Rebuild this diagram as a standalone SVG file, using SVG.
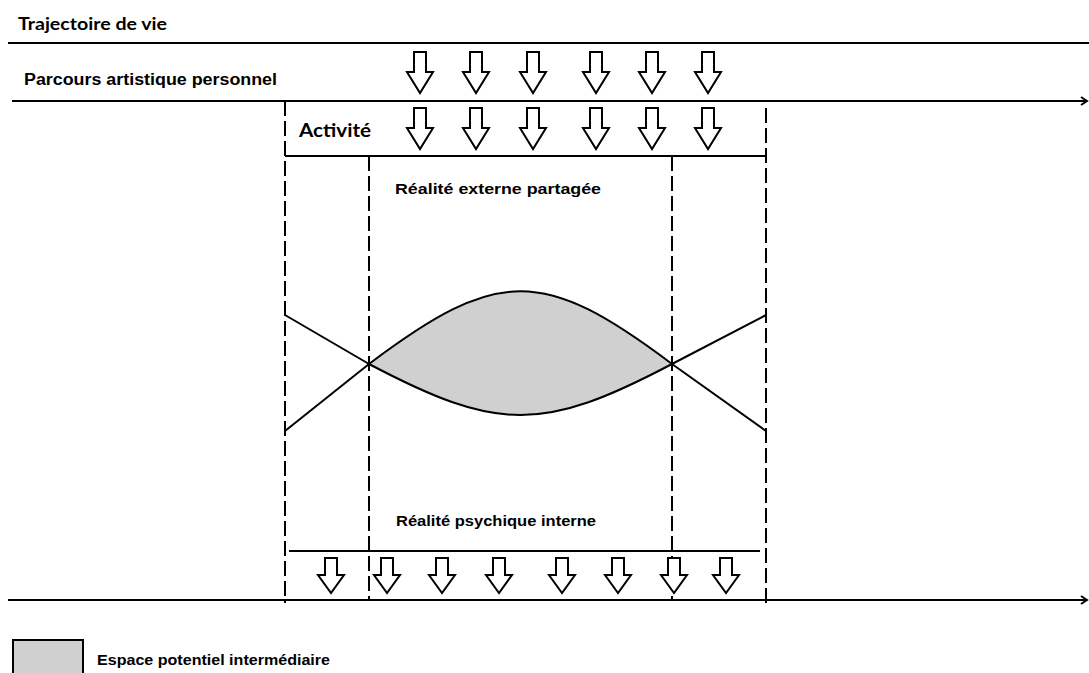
<svg xmlns="http://www.w3.org/2000/svg" xmlns:xlink="http://www.w3.org/1999/xlink" width="1089" height="673" viewBox="0 0 1089 673">
  <style>
    .line { stroke: #000; stroke-width: 2; fill: none; }
    .dash { stroke: #000; stroke-width: 2; fill: none; stroke-dasharray: 15 5; }
    .arrow { stroke: #000; stroke-width: 2; fill: #fff; stroke-linejoin: miter; }
    .lbl { font-family: "Liberation Sans", Arial, sans-serif; font-weight: bold; fill: #000; }
    .cal { font-family: Lato, "Open Sans", sans-serif; font-weight: bold; fill: #000; }
    .zone { fill: #d0d0d0; stroke: #000; stroke-width: 2; }
  </style>
  <defs>
    <!-- hollow down arrow, origin at top centre -->
    <path id="arrTall" class="arrow" d="M-6,0 V20 H-13 L0,41 L13,20 H6 V0 Z"/>
    <path id="arrShort" class="arrow" d="M-6,0 V17 H-13 L0,35 L13,17 H6 V0 Z"/>
  </defs>

  <rect width="1089" height="673" fill="#fff"/>

  <!-- labels -->
  <g id="trajectoire">
    <text class="cal" x="18" y="30" font-size="16.5" textLength="149" lengthAdjust="spacingAndGlyphs">Trajectoire de vie</text>
  </g>
  <g id="parcours">
    <text class="lbl" x="24" y="85" font-size="16" textLength="253" lengthAdjust="spacingAndGlyphs">Parcours artistique personnel</text>
  </g>
  <g id="activite">
    <text class="cal" x="299" y="137" font-size="19" textLength="72" lengthAdjust="spacingAndGlyphs">Activité</text>
  </g>
  <g id="realite-externe">
    <text class="lbl" x="395" y="194" font-size="15.5" textLength="206" lengthAdjust="spacingAndGlyphs">Réalité externe partagée</text>
  </g>
  <g id="realite-interne">
    <text class="lbl" x="396" y="526" font-size="15.5" textLength="200" lengthAdjust="spacingAndGlyphs">Réalité psychique interne</text>
  </g>

  <!-- connectors: timelines, frame lines and flow arrows -->
  <g id="connectors">
    <line class="line" x1="8" y1="43" x2="1089" y2="43"/>
    <line class="line" x1="12" y1="101" x2="1087" y2="101"/>
    <polyline class="line" points="1081,97 1087,101 1081,105"/>
    <line class="line" x1="8" y1="600" x2="1087" y2="600"/>
    <polyline class="line" points="1081,596 1087,600 1081,604"/>

    <!-- activity frame -->
    <line class="line" x1="285" y1="156" x2="766" y2="156"/>
    <line class="line" x1="289" y1="551" x2="760" y2="551"/>
    <line class="dash" x1="285" y1="101" x2="285" y2="603"/>
    <line class="dash" x1="766" y1="108" x2="766" y2="603"/>
    <line class="dash" x1="369" y1="156" x2="369" y2="600"/>
    <line class="dash" x1="672" y1="156" x2="672" y2="600"/>

    <!-- crossing curves -->
    <line class="line" x1="285" y1="315" x2="369" y2="364"/>
    <line class="line" x1="285" y1="431" x2="369" y2="364"/>
    <line class="line" x1="766" y1="315" x2="672" y2="364"/>
    <line class="line" x1="766" y1="431" x2="672" y2="364"/>

    <!-- arrows between the two timelines -->
    <use xlink:href="#arrTall" x="420" y="52"/>
    <use xlink:href="#arrTall" x="476" y="52"/>
    <use xlink:href="#arrTall" x="533" y="52"/>
    <use xlink:href="#arrTall" x="596" y="52"/>
    <use xlink:href="#arrTall" x="652" y="52"/>
    <use xlink:href="#arrTall" x="708" y="52"/>

    <use xlink:href="#arrTall" x="420" y="108"/>
    <use xlink:href="#arrTall" x="476" y="108"/>
    <use xlink:href="#arrTall" x="533" y="108"/>
    <use xlink:href="#arrTall" x="596" y="108"/>
    <use xlink:href="#arrTall" x="652" y="108"/>
    <use xlink:href="#arrTall" x="708" y="108"/>

    <use xlink:href="#arrShort" x="331" y="558"/>
    <use xlink:href="#arrShort" x="387" y="558"/>
    <use xlink:href="#arrShort" x="442" y="558"/>
    <use xlink:href="#arrShort" x="499" y="558"/>
    <use xlink:href="#arrShort" x="562" y="558"/>
    <use xlink:href="#arrShort" x="618" y="558"/>
    <use xlink:href="#arrShort" x="674" y="558"/>
    <use xlink:href="#arrShort" x="726" y="558"/>
  </g>

  <!-- shaded potential space between the curves -->
  <g id="espace">
    <path class="zone" d="M369,364 C498,267 543,267 672,364 C543,432 498,432 369,364 Z"/>
  </g>

  <!-- legend -->
  <g id="legende">
    <rect class="zone" x="13" y="640" width="70" height="40"/>
    <text class="lbl" x="97" y="665" font-size="15.5" textLength="233" lengthAdjust="spacingAndGlyphs">Espace potentiel intermédiaire</text>
  </g>
</svg>
